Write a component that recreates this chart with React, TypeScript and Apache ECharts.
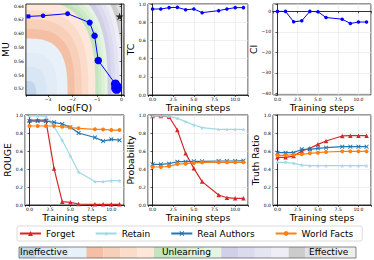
import React, { useEffect, useRef } from 'react';
import * as echarts from 'echarts';

// ---------------- data ----------------
const steps = [0, 1, 2, 3, 4, 5, 6, 8, 9, 10, 11];
const stepTicks = ['0.0', '2.5', '5.0', '7.5', '10.0'];

const fqLog = [-3.8, -3.2, -2.2, -1.3, -1.1, -0.95, -0.25, -0.2, -0.22, -0.18, -0.2];
const muVals = [0.625, 0.626, 0.629, 0.616, 0.597, 0.561, 0.527, 0.523, 0.521, 0.522, 0.52];
const muSizes = [4, 4.5, 5, 6, 6.5, 7.5, 9, 9.5, 10, 10, 10];
const starPoint = [-0.08, 0.625];

const tcVals = [0.945, 0.945, 0.96, 0.963, 0.937, 0.945, 0.905, 0.927, 0.945, 0.96, 0.96];
const ciVals = [0, 0, -5.1, -4.6, 0, -0.2, -3.0, -3.8, -5.9, -5.2, -5.2];

const rougeForget = [0.944, 0.944, 0.944, 0.405, 0.037, 0.03, 0.011, 0.007, 0.007, 0.007, 0.007];
const rougeRetain = [0.989, 0.989, 0.985, 0.87, 0.72, 0.544, 0.367, 0.26, 0.26, 0.27, 0.27];
const rougeReal = [0.933, 0.933, 0.933, 0.919, 0.9, 0.865, 0.8, 0.75, 0.71, 0.73, 0.72];
const rougeWorld = [0.878, 0.878, 0.878, 0.878, 0.87, 0.86, 0.852, 0.841, 0.84, 0.833, 0.833];

const probForget = [0.989, 0.989, 0.98, 0.833, 0.574, 0.407, 0.26, 0.111, 0.081, 0.074, 0.074];
const probRetain = [0.99, 0.99, 0.985, 0.963, 0.926, 0.889, 0.859, 0.84, 0.84, 0.84, 0.84];
const probReal = [0.452, 0.452, 0.459, 0.481, 0.481, 0.485, 0.485, 0.489, 0.489, 0.489, 0.493];
const probWorld = [0.422, 0.422, 0.43, 0.455, 0.459, 0.467, 0.474, 0.474, 0.474, 0.474, 0.474];

const trForget = [0.53, 0.53, 0.544, 0.6, 0.63, 0.674, 0.711, 0.767, 0.77, 0.77, 0.77];
const trRetain = [0.474, 0.474, 0.463, 0.444, 0.437, 0.437, 0.437, 0.437, 0.437, 0.437, 0.437];
const trReal = [0.581, 0.581, 0.581, 0.619, 0.619, 0.63, 0.637, 0.648, 0.648, 0.648, 0.648];
const trWorld = [0.552, 0.552, 0.559, 0.563, 0.574, 0.581, 0.589, 0.596, 0.596, 0.596, 0.596];

const seriesNames = ['Forget', 'Retain', 'Real Authors', 'World Facts'];
const bandLabels = ['Ineffective', 'Unlearning', 'Effective'];
const bandColors = [
  '#c3d7ec', '#d9e7f5', '#e1ecf7', '#e8f1fa',
  '#f5bfa5', '#f8cfb9', '#fbdccb', '#fde7db',
  '#c2e4be', '#cfeaca', '#dbf0d6', '#e6f5e2',
  '#d2d0e8', '#dcdaee', '#e5e4f2', '#efeef7',
  '#cccccc', '#e0e0e0', '#e7e7e7', '#eeeeee',
];
const bandLimits = [0.25, 0.5, 0.75, 1.0, 1.17, 1.34, 1.5, 1.671, 1.744, 1.817, 1.89, 1.964, 2.054, 2.144, 2.234, 2.323, 2.42, 2.52, 2.62, 99];

// ---------------- helpers ----------------
const FONT = 'DejaVu Sans';
const FQ_MIN = -3.9, FQ_MAX = 0.1, MU_MIN = 0.511, MU_MAX = 0.643;
const BG_SCALE = [0.424, 0.62];
const BG_POW = 3;

const C_FORGET = '#d62728';
const C_RETAIN = '#9fd8e6';
const C_REAL = '#1f77b4';
const C_WORLD = '#ff7f0e';

const STAR = 'path://M50,0 L61,35 L98,35 L68,57 L79,91 L50,70 L21,91 L32,57 L2,35 L39,35 Z';
const XMARK = 'path://M0,1.5 L1.5,0 L5,3.5 L8.5,0 L10,1.5 L6.5,5 L10,8.5 L8.5,10 L5,6.5 L1.5,10 L0,8.5 L3.5,5 Z';

function fmtMul(step: number, dec: number) {
  return (v: number) => {
    const k = v / step;
    if (Math.abs(k - Math.round(k)) > 1e-6) return '';
    const s = Math.abs(v).toFixed(dec);
    return v < -1e-9 ? '\u2212' + s : s;
  };
}
const stepFmt = (v: number) => {
  const k = v / 2.5;
  if (Math.abs(k - Math.round(k)) > 1e-6) return '';
  const i = Math.round(k);
  return stepTicks[i] ?? '';
};

const nameStyle = { fontSize: 9.3, fontFamily: FONT, color: '#000' };
const axisLineS = { show: true, lineStyle: { color: '#000', width: 0.8 } };
const axisTickS = { show: true, length: 2, lineStyle: { color: '#000', width: 0.6 } };
const splitS = { show: true, lineStyle: { color: '#e4e4e4', width: 0.6 } };
const labelS = (fmt: any) => ({ fontSize: 4.5, color: '#000', margin: 2, fontFamily: FONT, formatter: fmt, showMinLabel: true, showMaxLabel: true });

function stepsAxis(gridIndex: number, nameGap: number) {
  return {
    type: 'value', gridIndex, min: -0.55, max: 11.55, minInterval: 2.5, maxInterval: 2.5, splitNumber: 5,
    name: 'Training steps', nameLocation: 'middle', nameGap, nameTextStyle: nameStyle,
    axisLine: axisLineS, axisTick: axisTickS, axisLabel: labelS(stepFmt), splitLine: splitS,
  };
}
function unitYAxis(gridIndex: number, name: string, nameGap: number) {
  return {
    type: 'value', gridIndex, min: 0, max: 1, interval: 0.2,
    name, nameLocation: 'middle', nameGap, nameTextStyle: nameStyle,
    axisLine: axisLineS, axisTick: axisTickS, axisLabel: labelS(fmtMul(0.2, 1)), splitLine: splitS,
  };
}
function lineS(name: string, idx: number, vals: number[], color: string, symbol: string, size: number) {
  return {
    type: 'line', name, xAxisIndex: idx, yAxisIndex: idx,
    data: steps.map((s, i) => [s, vals[i]]),
    symbol, symbolSize: size, color,
    itemStyle: { color }, lineStyle: { color, width: 1.2 }, z: 3,
  };
}
function groupSeries(idx: number, f: number[], r: number[], a: number[], w: number[]) {
  return [
    lineS(seriesNames[0], idx, f, C_FORGET, 'triangle', 4.5),
    lineS(seriesNames[1], idx, r, C_RETAIN, STAR, 4.5),
    lineS(seriesNames[2], idx, a, C_REAL, XMARK, 4.5),
    lineS(seriesNames[3], idx, w, C_WORLD, 'circle', 4),
  ];
}

const gridBase = { show: true, borderColor: '#000', borderWidth: 0.8, backgroundColor: 'transparent' };

export default function App() {
  const ref = useRef<HTMLDivElement>(null);
  useEffect(() => {
    if (!ref.current) return;
    const chart = echarts.init(ref.current, undefined, { renderer: 'svg' });
    const bgData = bandLimits.map((_, i) => [FQ_MIN, MU_MIN, bandLimits.length - 1 - i]);
    const option: any = {
      animation: false,
      backgroundColor: '#fff',
      textStyle: { fontFamily: FONT },
      grid: [
        { ...gridBase, left: 25, top: 4, width: 99, height: 91 },
        { ...gridBase, left: 148, top: 4, width: 100, height: 91 },
        { ...gridBase, left: 273, top: 4, width: 100, height: 91 },
        { ...gridBase, left: 25, top: 115, width: 99, height: 90 },
        { ...gridBase, left: 148, top: 115, width: 100, height: 90 },
        { ...gridBase, left: 273, top: 115, width: 100, height: 90 },
        { show: true, borderColor: '#555', borderWidth: 0.7, left: 19, top: 247, width: 337, height: 11 },
      ],
      xAxis: [
        {
          type: 'value', gridIndex: 0, min: FQ_MIN, max: FQ_MAX, minInterval: 1, maxInterval: 1, splitNumber: 5,
          name: 'log(FQ)', nameLocation: 'middle', nameGap: 3, nameTextStyle: nameStyle,
          axisLine: axisLineS, axisTick: axisTickS, axisLabel: labelS(fmtMul(1, 0)), splitLine: { show: false },
        },
        stepsAxis(1, 4),
        stepsAxis(2, 4),
        stepsAxis(3, 6),
        stepsAxis(4, 6),
        stepsAxis(5, 6),
        { type: 'category', gridIndex: 6, data: bandColors.map((_, i) => String(i)), show: false, boundaryGap: true },
      ],
      yAxis: [
        {
          type: 'value', gridIndex: 0, min: MU_MIN, max: MU_MAX, minInterval: 0.02, maxInterval: 0.02, splitNumber: 6,
          name: 'MU', nameLocation: 'middle', nameGap: 13, nameTextStyle: nameStyle,
          axisLine: axisLineS, axisTick: axisTickS, axisLabel: labelS(fmtMul(0.02, 2)), splitLine: { show: false },
        },
        unitYAxis(1, 'TC', 11),
        {
          type: 'value', gridIndex: 2, min: -40.8, max: 3.6, minInterval: 10, maxInterval: 10, splitNumber: 5,
          name: 'CI', nameLocation: 'middle', nameGap: 14, nameTextStyle: nameStyle,
          axisLine: axisLineS, axisTick: axisTickS, axisLabel: labelS(fmtMul(10, 0)), splitLine: splitS,
        },
        unitYAxis(3, 'ROUGE', 11),
        unitYAxis(4, 'Probability', 10),
        unitYAxis(5, 'Truth Ratio', 12),
        { type: 'value', gridIndex: 6, min: 0, max: 1, show: false },
      ],
      legend: {
        data: seriesNames,
        left: 17, top: 226, orient: 'horizontal',
        itemWidth: 21, itemHeight: 6, itemGap: 20,
        padding: [3, 9, 3, 2],
        borderColor: '#d0d0d0', borderWidth: 0.8, borderRadius: 2,
        textStyle: { fontSize: 9, fontFamily: FONT, color: '#000' },
        selectedMode: false,
      },
      graphic: [
        { type: 'text', left: 20, top: 247, style: { text: bandLabels[0], font: `9px "${FONT}"`, fill: '#000' } },
        { type: 'text', left: 162, top: 247, style: { text: bandLabels[1], font: `9px "${FONT}"`, fill: '#000' } },
        { type: 'text', left: 309, top: 247, style: { text: bandLabels[2], font: `9px "${FONT}"`, fill: '#000' } },
      ],
      series: [
        {
          type: 'custom', name: 'bg', xAxisIndex: 0, yAxisIndex: 0, z: -1, silent: true,
          data: bgData,
          renderItem: (params: any, api: any) => {
            const band = bandLimits.length - 1 - params.dataIndex;
            const lim = bandLimits[band];
            const pts: number[][] = [api.coord([FQ_MIN, MU_MIN])];
            const N = 80;
            const e = 2 / BG_POW;
            for (let j = 0; j <= N; j++) {
              const t = (j / N) * Math.PI / 2;
              const u = Math.min(lim * BG_SCALE[0] * Math.pow(Math.cos(t), e), 1);
              const v = Math.min(lim * BG_SCALE[1] * Math.pow(Math.sin(t), e), 1);
              pts.push(api.coord([FQ_MIN + u * (FQ_MAX - FQ_MIN), MU_MIN + v * (MU_MAX - MU_MIN)]));
            }
            return { type: 'polygon', shape: { points: pts }, style: { fill: bandColors[band], stroke: 'none' } };
          },
        },
        {
          type: 'line', name: 'MU path', xAxisIndex: 0, yAxisIndex: 0, z: 3,
          data: fqLog.map((x, i) => ({ value: [x, muVals[i]], symbol: i === 0 ? 'rect' : 'circle', symbolSize: muSizes[i] })),
          color: '#0000ff', itemStyle: { color: '#0000ff' }, lineStyle: { color: '#0000ff', width: 1 },
        },
        {
          type: 'scatter', name: 'target', xAxisIndex: 0, yAxisIndex: 0, z: 4,
          data: [starPoint], symbol: STAR, symbolSize: 8, itemStyle: { color: '#000' },
        },
        {
          type: 'line', name: 'TC', xAxisIndex: 1, yAxisIndex: 1, z: 3,
          data: steps.map((s, i) => [s, tcVals[i]]), symbol: 'circle', symbolSize: 3.5,
          color: '#0000ff', itemStyle: { color: '#0000ff' }, lineStyle: { color: '#0000ff', width: 1 },
        },
        {
          type: 'line', name: 'CI', xAxisIndex: 2, yAxisIndex: 2, z: 3,
          data: steps.map((s, i) => [s, ciVals[i]]), symbol: 'circle', symbolSize: 3.5,
          color: '#0000ff', itemStyle: { color: '#0000ff' }, lineStyle: { color: '#0000ff', width: 1 },
        },
        ...groupSeries(3, rougeForget, rougeRetain, rougeReal, rougeWorld),
        ...groupSeries(4, probForget, probRetain, probReal, probWorld),
        ...groupSeries(5, trForget, trRetain, trReal, trWorld),
        {
          type: 'bar', name: 'scale', xAxisIndex: 6, yAxisIndex: 6, z: -1, silent: true,
          barWidth: '100%', barCategoryGap: '0%',
          data: bandColors.map((c) => ({ value: 1, itemStyle: { color: c } })),
        },
      ],
    };
    chart.setOption(option);
    return () => chart.dispose();
  }, []);
  return (
    <div style={{ position: 'fixed', left: 0, top: 0, width: 374, height: 260, background: '#fff' }}>
      <div ref={ref} style={{ width: 374, height: 260 }} />
    </div>
  );
}
